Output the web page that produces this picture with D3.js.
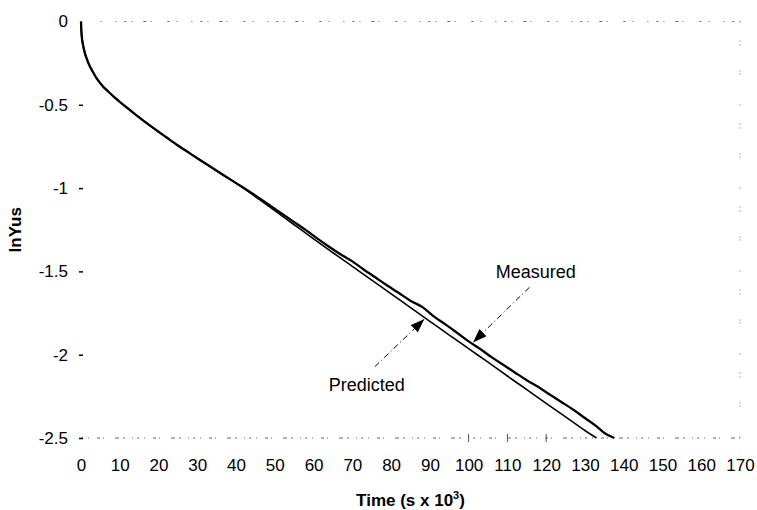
<!DOCTYPE html>
<html>
<head>
<meta charset="utf-8">
<script src="https://cdn.jsdelivr.net/npm/d3@7"></script>
<style>
  body { margin: 0; background: #fff; }
  text { font-family: "Liberation Sans", Arial, sans-serif; fill: #000; }
</style>
</head>
<body>
<div id="chart"></div>
<script>
// Measured curve (time in s x 10^3, lnYus)
const measuredT = [0, 0.1, 0.3, 0.6, 1, 1.5, 2, 3, 4, 5.5, 7, 8.5, 10, 12, 14, 16, 18, 20, 22, 25, 28, 31, 34, 37, 40, 43, 46, 49, 52, 55, 58, 61, 64, 67, 70, 73, 76, 79, 82, 85, 88, 91, 94, 97, 100, 103, 106, 109, 112, 115, 118, 121, 124, 127, 130, 133, 135, 137.6];
const measuredY = [0, -0.06, -0.11, -0.15, -0.19, -0.225, -0.255, -0.3, -0.34, -0.385, -0.42, -0.452, -0.482, -0.52, -0.557, -0.593, -0.628, -0.662, -0.695, -0.744, -0.79, -0.836, -0.881, -0.926, -0.97, -1.014, -1.06, -1.108, -1.156, -1.204, -1.252, -1.303, -1.352, -1.398, -1.44, -1.49, -1.537, -1.585, -1.63, -1.676, -1.713, -1.77, -1.818, -1.868, -1.92, -1.966, -2.016, -2.062, -2.108, -2.153, -2.194, -2.24, -2.285, -2.33, -2.38, -2.43, -2.47, -2.5];

// Predicted curve
const predictedT = [0, 0.1, 0.3, 0.6, 1, 1.5, 2, 3, 4, 5.5, 7, 8.5, 10, 12, 14, 16, 18, 20, 22, 25, 28, 31, 34, 37, 40, 43, 46, 50, 55, 60, 65, 70, 75, 80, 85, 90, 95, 100, 105, 110, 115, 120, 125, 130, 133];
const predictedY = [0, -0.06, -0.11, -0.15, -0.19, -0.225, -0.255, -0.3, -0.34, -0.385, -0.42, -0.452, -0.482, -0.52, -0.557, -0.593, -0.628, -0.662, -0.695, -0.744, -0.79, -0.836, -0.881, -0.926, -0.97, -1.018, -1.068, -1.135, -1.22, -1.305, -1.388, -1.47, -1.552, -1.635, -1.717, -1.8, -1.882, -1.964, -2.045, -2.128, -2.21, -2.292, -2.373, -2.455, -2.5];

const xTicks = d3.range(0, 171, 10);
const yTicks = [0, -0.5, -1, -1.5, -2, -2.5];

// Annotations: label position, arrow start, arrow tip (data units)
const notes = [
  {label: "Measured", lt: 117.3, ly: -1.504, st: 115.7, sy: -1.595, et: 101.3, ey: -1.922},
  {label: "Predicted", lt: 73.7, ly: -2.182, st: 75.8, sy: -2.072, et: 88.4, ey: -1.79}
];

const width = 757, height = 510;
const svg = d3.select("#chart").append("svg")
    .attr("width", width)
    .attr("height", height);

const x = d3.scaleLinear().domain([0, 170]).range([81, 740]);
const y = d3.scaleLinear().domain([-2.5, 0]).range([438, 21.5]);

// scanned-looking dotted frame
const frame = svg.append("g").attr("stroke", "#666").attr("fill", "none");
frame.append("line")
    .attr("x1", x(5)).attr("x2", x(170)).attr("y1", y(0)).attr("y2", y(0))
    .attr("stroke-width", 1)
    .attr("stroke-dasharray", "1,14,1,8,2,5,1,11,3,4,1,16,2,7");
frame.append("line")
    .attr("x1", x(0)).attr("x2", x(170)).attr("y1", y(-2.5)).attr("y2", y(-2.5))
    .attr("stroke-width", 1.1)
    .attr("stroke-dasharray", "2,5,1,8,3,3,1,11,4,4,2,7,1,4");
frame.append("line")
    .attr("x1", x(170)).attr("x2", x(170)).attr("y1", y(0)).attr("y2", y(-2.5))
    .attr("stroke-width", 1)
    .attr("stroke-dasharray", "1,18,1,3,1,25,1,2,1,30");

// small crosses on the bottom edge
svg.append("g").selectAll("line")
    .data([100, 110, 120])
    .join("line")
    .attr("x1", d => x(d)).attr("x2", d => x(d))
    .attr("y1", y(-2.5) - 4).attr("y2", y(-2.5) + 4)
    .attr("stroke", "#555").attr("stroke-width", 1);

// y axis: short dashes and labels, no axis line
const yAxis = svg.append("g")
    .attr("transform", `translate(${x(0)},0)`)
    .call(d3.axisLeft(y).tickValues(yTicks).tickSize(0).tickPadding(13)
        .tickFormat(d => String(d)));
yAxis.select(".domain").remove();
yAxis.selectAll("text").attr("font-size", 17).style("font-family", "Liberation Sans, Arial, sans-serif");
yAxis.selectAll(".tick").filter(d => d !== 0).append("line")
    .attr("x1", -2).attr("x2", 2).attr("stroke", "#000").attr("stroke-width", 1.5);

// x axis: labels only
const xAxis = svg.append("g")
    .attr("transform", `translate(0,${y(-2.5)})`)
    .call(d3.axisBottom(x).tickValues(xTicks).tickSize(0).tickPadding(21));
xAxis.select(".domain").remove();
xAxis.selectAll("text").attr("font-size", 17).style("font-family", "Liberation Sans, Arial, sans-serif");

// axis titles
const title = svg.append("text")
    .attr("x", (x(0) + x(170)) / 2)
    .attr("y", 506)
    .attr("text-anchor", "middle")
    .attr("font-size", 17)
    .attr("font-weight", "bold");
title.append("tspan").text("Time (s x 10");
title.append("tspan").attr("dy", -7).attr("font-size", 11).text("3");
title.append("tspan").attr("dy", 7).text(")");

svg.append("text")
    .attr("transform", `translate(21,${(y(0) + y(-2.5)) / 2}) rotate(-90)`)
    .attr("text-anchor", "middle")
    .attr("font-size", 17)
    .attr("font-weight", "bold")
    .text("lnYus");

// curves
const line = d3.line().x(d => x(d[0])).y(d => y(d[1])).curve(d3.curveMonotoneX);

svg.append("path")
    .datum(predictedT.map((t, i) => [t, predictedY[i]]))
    .attr("d", line)
    .attr("fill", "none")
    .attr("stroke", "#000")
    .attr("stroke-width", 1.6);

svg.append("path")
    .datum(measuredT.map((t, i) => [t, measuredY[i]]))
    .attr("d", line)
    .attr("fill", "none")
    .attr("stroke", "#000")
    .attr("stroke-width", 2.3);

// annotation arrows
svg.append("defs").append("marker")
    .attr("id", "head")
    .attr("viewBox", "0 0 14 10")
    .attr("refX", 13).attr("refY", 5)
    .attr("markerWidth", 14).attr("markerHeight", 10)
    .attr("markerUnits", "userSpaceOnUse")
    .attr("orient", "auto")
    .append("path")
    .attr("d", "M0,0 L14,5 L0,10 Z")
    .attr("fill", "#000");

const ann = svg.append("g");
ann.selectAll("line")
    .data(notes)
    .join("line")
    .attr("x1", d => x(d.st)).attr("y1", d => y(d.sy))
    .attr("x2", d => x(d.et)).attr("y2", d => y(d.ey))
    .attr("stroke", "#000")
    .attr("stroke-width", 1)
    .attr("stroke-dasharray", "6,3,1,3")
    .attr("marker-end", "url(#head)");

ann.selectAll("text")
    .data(notes)
    .join("text")
    .attr("x", d => x(d.lt))
    .attr("y", d => y(d.ly))
    .attr("dy", "0.35em")
    .attr("text-anchor", "middle")
    .attr("font-size", 18)
    .text(d => d.label);
</script>
</body>
</html>
